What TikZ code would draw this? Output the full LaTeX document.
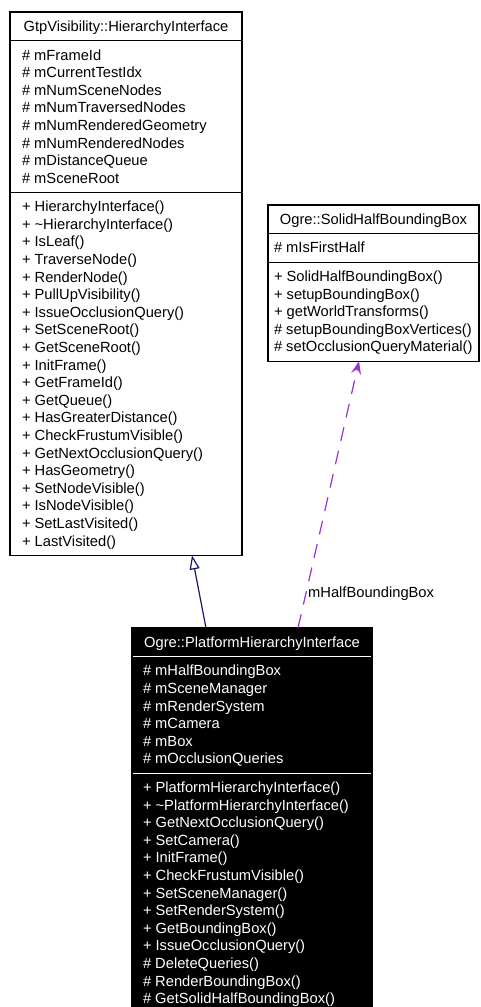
\documentclass[tikz,border=0pt]{standalone}
\usepackage{fontspec}
\setmainfont{Liberation Sans}
\usetikzlibrary{arrows.meta}
\definecolor{mblue}{RGB}{25,25,112}
\definecolor{dorchid}{RGB}{154,50,205}
\begin{document}
\begin{tikzpicture}[x=1pt,y=-1pt,
  box/.style={draw=black, fill=white, line width=1.1pt, inner sep=0pt, outer sep=0pt, anchor=north west},
  dbox/.style={box, fill=black},
  txt/.style={anchor=base west, inner sep=0pt, outer sep=0pt, font=\fontsize{14.7}{17.6}\selectfont},
  ttl/.style={anchor=base, inner sep=0pt, outer sep=0pt, font=\fontsize{14.7}{17.6}\selectfont},
  wtxt/.style={txt, text=white},
  wttl/.style={ttl, text=white},
  sepline/.style={line width=1.1pt, draw=black},
  wsep/.style={line width=1.1pt, draw=white},
  inh/.style={draw=mblue, line width=1.2pt, -{Triangle[open, length=14pt, width=10pt]}},
  use/.style={draw=dorchid, line width=1.2pt, dash pattern=on 14pt off 10pt, -{Stealth[length=13pt, width=10pt, inset=5pt]}},
  lbl/.style={anchor=base west, inner sep=0pt, font=\fontsize{14.7}{17.6}\selectfont}]
\fill[white] (0,0) rectangle (481,1007);
\clip (0,0) rectangle (481,1007);

% ---- Box 1: GtpVisibility::HierarchyInterface
\node[box, minimum width=232pt, minimum height=543.4pt] (hi) at (10,12) {};
\draw[sepline] ([yshift=-28.6pt]hi.north west) -- ([yshift=-28.6pt]hi.north east);
\draw[sepline] ([yshift=-180.4pt]hi.north west) -- ([yshift=-180.4pt]hi.north east);
\node[ttl] (hit) at (126,31.3) {GtpVisibility::HierarchyInterface};
\foreach [count=\i from 0] \t in {mFrameId,mCurrentTestIdx,mNumSceneNodes,mNumTraversedNodes,mNumRenderedGeometry,mNumRenderedNodes,mDistanceQueue,mSceneRoot}
  \node[txt] (hia\i) at (22,{60+17.6*\i}) {\# \t};
\foreach [count=\i from 0] \t in {HierarchyInterface(),\textasciitilde HierarchyInterface(),IsLeaf(),TraverseNode(),RenderNode(),PullUpVisibility(),IssueOcclusionQuery(),SetSceneRoot(),GetSceneRoot(),InitFrame(),GetFrameId(),GetQueue(),HasGreaterDistance(),CheckFrustumVisible(),GetNextOcclusionQuery(),HasGeometry(),SetNodeVisible(),IsNodeVisible(),SetLastVisited(),LastVisited()}
  \node[txt] (him\i) at (22,{211.7+17.6*\i}) {+ \t};

% ---- Box 2: Ogre::SolidHalfBoundingBox
\node[box, minimum width=211pt, minimum height=156.2pt] (sh) at (268,205) {};
\draw[sepline] ([yshift=-28.6pt]sh.north west) -- ([yshift=-28.6pt]sh.north east);
\draw[sepline] ([yshift=-57.2pt]sh.north west) -- ([yshift=-57.2pt]sh.north east);
\node[ttl] (sht) at (373.5,224.3) {Ogre::SolidHalfBoundingBox};
\node[txt] (sha0) at (274,252.9) {\# mIsFirstHalf};
\foreach [count=\i from 0] \t in {+ SolidHalfBoundingBox(),+ setupBoundingBox(),+ getWorldTransforms(),\# setupBoundingBoxVertices(),\# setOcclusionQueryMaterial()}
  \node[txt] (shm\i) at (274,{281.5+17.6*\i}) {\t};

% ---- Box 3: Ogre::PlatformHierarchyInterface
\node[dbox, minimum width=240pt, minimum height=400pt] (pl) at (132,628) {};
\draw[wsep] ([xshift=1pt,yshift=-28.6pt]pl.north west) -- ([xshift=-1pt,yshift=-28.6pt]pl.north east);
\draw[wsep] ([xshift=1pt,yshift=-145.2pt]pl.north west) -- ([xshift=-1pt,yshift=-145.2pt]pl.north east);
\node[wttl] (plt) at (252,647.3) {Ogre::PlatformHierarchyInterface};
\foreach [count=\i from 0] \t in {mHalfBoundingBox,mSceneManager,mRenderSystem,mCamera,mBox,mOcclusionQueries}
  \node[wtxt] (pla\i) at (143,{675.9+17.6*\i}) {\# \t};
\foreach [count=\i from 0] \t in {+ PlatformHierarchyInterface(),+ \textasciitilde PlatformHierarchyInterface(),+ GetNextOcclusionQuery(),+ SetCamera(),+ InitFrame(),+ CheckFrustumVisible(),+ SetSceneManager(),+ SetRenderSystem(),+ GetBoundingBox(),+ IssueOcclusionQuery(),\# DeleteQueries(),\# RenderBoundingBox(),\# GetSolidHalfBoundingBox()}
  \node[wtxt] (plm\i) at (143,{792.5+17.6*\i}) {\t};

% ---- connectors
\draw[inh] ([xshift=74pt]pl.north west) -- ([xshift=182pt]hi.south west);
\draw[use] ([xshift=166pt]pl.north west) -- ([xshift=91pt]sh.south west);
\node[lbl] (ulbl) at (308,597) {mHalfBoundingBox};
\end{tikzpicture}
\end{document}
